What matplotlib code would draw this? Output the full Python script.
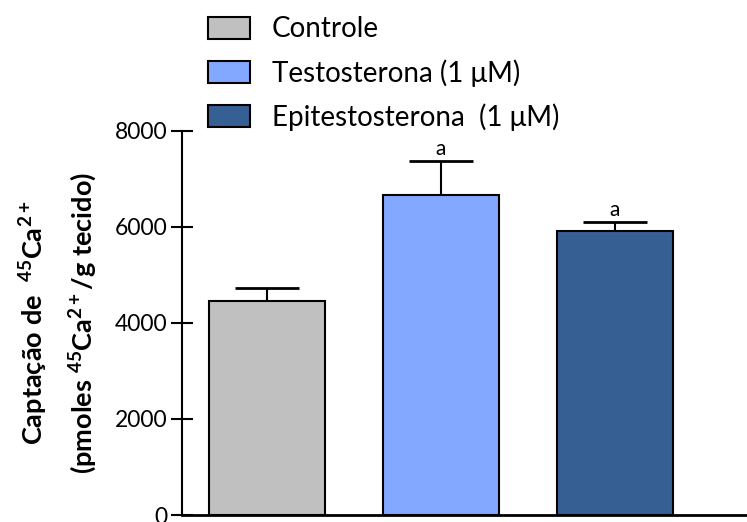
import matplotlib
matplotlib.use("Agg")
import matplotlib.pyplot as plt
from matplotlib.patches import Patch

plt.rcParams['font.family'] = ['Lato', 'DejaVu Sans']
plt.rcParams['mathtext.fontset'] = 'custom'
plt.rcParams['mathtext.rm'] = 'Lato'
plt.rcParams['mathtext.bf'] = 'Lato:bold'
plt.rcParams['mathtext.it'] = 'Lato:italic'

grupos = ["Controle", "Testosterona (1 \u03bcM)", "Epitestosterona  (1 \u03bcM)"]
captacao = [4445, 6665, 5915]
epm = [285, 695, 175]
letras = ["", "a", "a"]
cores = ["#C0C0C0", "#82A9FF", "#365F94"]

fig = plt.figure(figsize=(7.47, 5.22), dpi=100)
ax = fig.add_axes([181.5 / 747, 1 - 515 / 522, 1 - 181.5 / 747, (515 - 130.7) / 522])

x = range(len(grupos))
ax.bar(x, captacao, width=0.667, color=cores, edgecolor="black", linewidth=1.5, zorder=2)
ax.errorbar(x, captacao, yerr=[[0] * 3, epm], fmt="none", ecolor="black",
            elinewidth=1.5, capsize=23, capthick=2, zorder=1)
for i in x:
    if letras[i]:
        ax.text(i, captacao[i] + epm[i] + 50, letras[i], ha="center", va="bottom", fontsize=15)

ax.set_xlim(-0.49, 2.76)
ax.set_ylim(0, 8000)
ax.set_yticks([0, 2000, 4000, 6000, 8000])
ax.set_xticks([])
ax.spines["top"].set_visible(False)
ax.spines["right"].set_visible(False)
ax.spines["left"].set_linewidth(1.5)
ax.spines["bottom"].set_linewidth(2)
ax.tick_params(axis="y", direction="inout", length=16, width=1.5, labelsize=16.5, pad=2)

# rótulo do eixo y em duas linhas
fig.text(34 / 747, 1 - 323 / 522, r"Captação de  $\mathbf{^{45}Ca^{2+}}$", rotation=90,
         ha="center", va="center", fontsize=19.5, fontweight="bold")
fig.text(83 / 747, 1 - 323 / 522, r"(pmoles $\mathbf{^{45}Ca^{2+}}$/g tecido)", rotation=90,
         ha="center", va="center", fontsize=19.5, fontweight="bold")

handles = [Patch(facecolor=c, edgecolor="black", linewidth=1.5) for c in cores]
fig.legend(handles, grupos, loc="upper left", bbox_to_anchor=(197 / 747, 0.99),
           frameon=False, fontsize=20, handlelength=1.5, handleheight=0.83,
           handletextpad=0.8, labelspacing=0.6, borderaxespad=0)

fig.savefig("out.png", dpi=100)
